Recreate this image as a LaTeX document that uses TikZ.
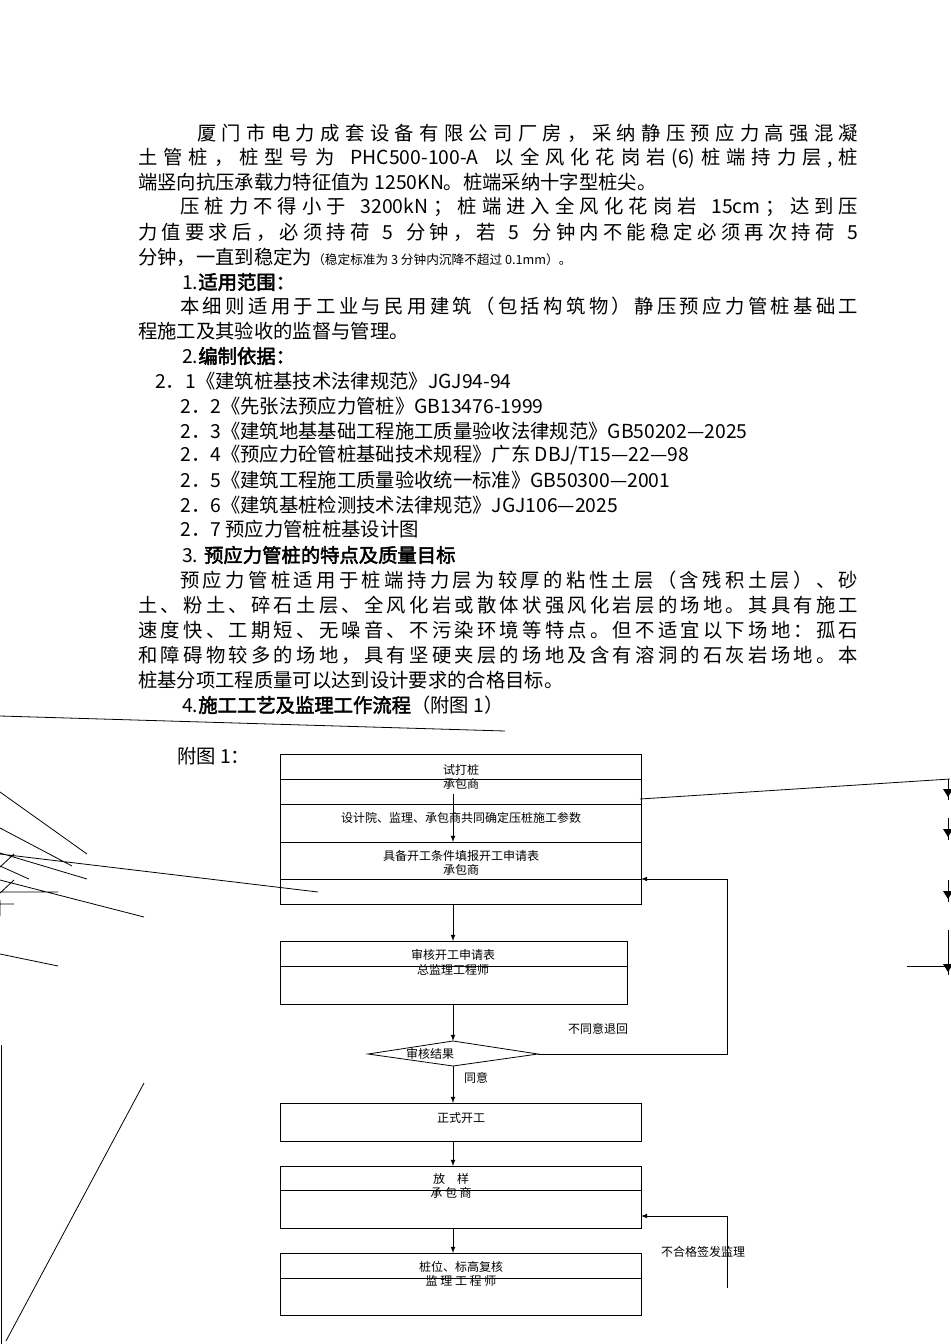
\documentclass[tikz,border=0pt]{standalone}
\usepackage{fontspec}
\setmainfont{Noto Sans CJK SC}[AutoFakeBold=2.5]
\hbadness=10000
\makeatletter
\newcommand{\jline}[2]{\makebox[#1][s]{\@tfor\jc@:=#2\do{\jc@\hfil}\unskip}}
\makeatother
\begin{document}
\begin{tikzpicture}[x=0.75pt,y=-0.75pt,
 tl/.style={anchor=west,inner sep=0pt,font=\fontsize{14.5}{16}\selectfont},
 fl/.style={inner sep=0pt,font=\fontsize{9}{10}\selectfont},
 bx/.style={draw,line width=0.6pt},
 ar/.style={draw,line width=0.6pt,-latex},
 st/.style={draw,line width=0.6pt}]
\useasboundingbox (0,0) rectangle (950,1344);
% text
\node[tl] (t1) at (197,133) {\jline{495.75pt}{厦门市电力成套设备有限公司厂房，采纳静压预应力高强混凝}};
\node[tl] (t2) at (138,158) {\jline{540pt}{土管桩，桩型号为~{PHC500-100-A}~以全风化花岗岩{(6)}桩端持力层{,}桩}};
\node[tl] (t3) at (138,182) {端竖向抗压承载力特征值为 1250KN。桩端采纳十字型桩尖。};
\node[tl] (t4) at (180,207) {\jline{508.5pt}{压桩力不得小于~{3200kN}；桩端进入全风化花岗岩~{15cm}；达到压}};
\node[tl] (t5) at (138,232) {\jline{540pt}{力值要求后，必须持荷~5~分钟，若~5~分钟内不能稳定必须再次持荷~5}};
\node[tl] (t6) at (138,257) {分钟，一直到稳定为{\fontsize{9.5}{10}\selectfont（稳定标准为 3 分钟内沉降不超过 0.1mm）。}};
\node[tl] (t7) at (182,282) {1.\textbf{适用范围：}};
\node[tl] (t8) at (180,306) {\jline{508.5pt}{本细则适用于工业与民用建筑（包括构筑物）静压预应力管桩基础工}};
\node[tl] (t9) at (138,331) {程施工及其验收的监督与管理。};
\node[tl] (t10) at (182,356) {2.\textbf{编制依据：}};
\node[tl] (t11) at (155,381) {2．1《建筑桩基技术法律规范》JGJ94-94};
\node[tl] (t12) at (180,406) {2．2《先张法预应力管桩》GB13476-1999};
\node[tl] (t13) at (180,431) {2．3《建筑地基基础工程施工质量验收法律规范》GB50202—2025};
\node[tl] (t14) at (180,455) {2．4《预应力砼管桩基础技术规程》广东 DBJ/T15—22—98};
\node[tl] (t15) at (180,480) {2．5《建筑工程施工质量验收统一标准》GB50300—2001};
\node[tl] (t16) at (180,505) {2．6《建筑基桩检测技术法律规范》JGJ106—2025};
\node[tl] (t17) at (180,529) {2．7 预应力管桩桩基设计图};
\node[tl] (t18) at (182,555) {3. \textbf{预应力管桩的特点及质量目标}};
\node[tl] (t19) at (180,580) {\jline{508.5pt}{预应力管桩适用于桩端持力层为较厚的粘性土层（含残积土层）、砂}};
\node[tl] (t20) at (138,605) {\jline{540pt}{土、粉土、碎石土层、全风化岩或散体状强风化岩层的场地。其具有施工}};
\node[tl] (t21) at (138,630) {\jline{540pt}{速度快、工期短、无噪音、不污染环境等特点。但不适宜以下场地：孤石}};
\node[tl] (t22) at (138,655) {\jline{540pt}{和障碍物较多的场地，具有坚硬夹层的场地及含有溶洞的石灰岩场地。本}};
\node[tl] (t23) at (138,680) {桩基分项工程质量可以达到设计要求的合格目标。};
\node[tl] (t24) at (182,705) {4.\textbf{施工工艺及监理工作流程}（附图 1）};
\node[tl] (t25) at (177,756) {附图 1：};
% boxes
\draw[bx] (280,754) rectangle (641,904);
\draw[st] (280,779) -- (641,779) (280,804) -- (641,804) (280,842) -- (641,842) (280,879) -- (641,879);
\draw[bx] (280,941) rectangle (627,1004); \draw[st] (280,966) -- (627,966);
\draw[bx] (453,1041) -- (538,1054) -- (453,1066) -- (368,1054) -- cycle;
\draw[bx] (280,1103) rectangle (641,1141);
\draw[bx] (280,1166) rectangle (641,1228); \draw[st] (280,1190) -- (641,1190);
\draw[bx] (280,1253) rectangle (641,1315); \draw[st] (280,1278) -- (641,1278);
\node[fl] (a1) at (461,770) {试打桩};
\node[fl] (a2) at (461,784) {承包商};
\node[fl] (a3) at (461,818) {设计院、监理、承包商共同确定压桩施工参数};
\node[fl] (a4) at (461,856) {具备开工条件填报开工申请表};
\node[fl] (a5) at (461,870) {承包商};
\node[fl] (b1) at (453,955) {审核开工申请表};
\node[fl] (b2) at (453,970) {总监理工程师};
\node[fl] (d1) at (430,1054) {审核结果};
\node[fl] (c1) at (461,1118) {正式开工};
\node[fl] (e1) at (451,1179) {放\quad 样};
\node[fl] (e2) at (451,1193) {承 包 商};
\node[fl] (f1) at (461,1267) {桩位、标高复核};
\node[fl] (f2) at (461,1281) {监 理 工 程 师};
\node[fl] (l1) at (598,1029) {不同意退回};
\node[fl] (l2) at (476,1078) {同意};
\node[fl] (l3) at (703,1252) {不合格签发监理};
% arrows
\coordinate (p0) at (453,794); \coordinate (p1) at (453,842);
\draw[ar] (p0) -- (p1);
\draw[ar] (453,904) -- (453,941);
\draw[ar] (453,1004) -- (453,1041);
\draw[ar] (453,1066) -- (453,1103);
\draw[ar] (453,1141) -- (453,1166);
\draw[ar] (453,1228) -- (453,1253);
\draw[ar] (538,1054) -- (727,1054) -- (727,879) -- (641,879);
\draw[ar] (727,1288) -- (727,1216) -- (641,1216);
% stray lines
\draw[st] (0,716) -- (505,731);
\draw[st] (0,792) -- (87,854) (0,828) -- (72,866) (0,853) -- (87,879) (0,854) -- (318,892)
 (0,866) -- (29,879) (0,880) -- (144,917) (0,867) -- (14,854) (0,893) -- (14,880)
 (0,892) -- (58,892) (0,904) -- (14,904) (0,900) -- (0,916) (0,954) -- (58,966);
\draw[st] (1,1045) -- (1,1344);
\draw[st] (144,1083) -- (6,1341);
\draw[st] (640,799) -- (950,779);
\draw[st] (907,966) -- (950,966);
\draw[st] (948,779) -- (948,800) (948,818) -- (948,840) (948,880) -- (948,902) (948,930) -- (948,975);
\foreach \yy in {797,837,899,972} \fill (943,\yy-8) -- (953,\yy-8) -- (948,\yy) -- cycle;
\end{tikzpicture}
\end{document}
